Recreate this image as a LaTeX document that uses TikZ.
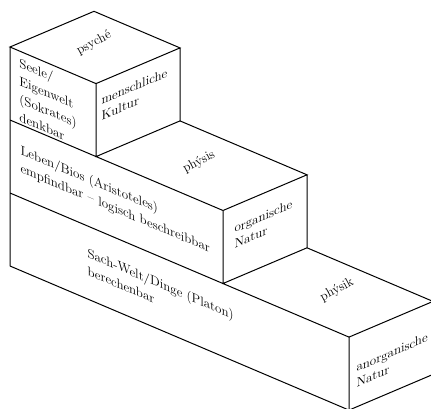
\documentclass[tikz,border=0pt]{standalone}
\usepackage{tikz}
\usetikzlibrary{calc}
\tikzset{leftlbl/.style={yslant=-0.425, anchor=base west, align=left, inner sep=0pt},
         rightlbl/.style={yslant=0.425, anchor=base west, align=left, inner sep=0pt},
         toplbl/.style={rotate=28, inner sep=0pt}}

\begin{document}
\begin{tikzpicture}[x=1pt, y=-1pt, line width=1pt, font=\fontsize{13}{18}\selectfont]
    \useasboundingbox (0, 0) rectangle (431, 408);

    % corners of the three steps
    \coordinate (a1) at (10, 47);
    \coordinate (b1) at (94, 11.3);
    \coordinate (c1) at (180, 47.9);
    \coordinate (d1) at (96, 83.6);
    \coordinate (e1) at (10, 120);
    \coordinate (f1) at (96, 156.6);
    \coordinate (g1) at (180, 120.9);

    \coordinate (e2) at (10, 193);
    \coordinate (d2) at (223, 210.5);
    \coordinate (h2) at (307, 174.8);
    \coordinate (d2b) at (223, 283.5);
    \coordinate (h2b) at (307, 247.8);

    \coordinate (e3) at (10, 266);
    \coordinate (d3) at (349, 337.1);
    \coordinate (h3) at (433, 301.4);
    \coordinate (d3b) at (349, 410.1);
    \coordinate (h3b) at (433, 374.4);

    \draw
    (a1) -- (b1) -- (c1) -- (d1) -- cycle
    (d1) -- (f1) -- (g1) -- (c1)
    (a1) -- (e3)
    (e1) -- (d2)
    (g1) -- (h2) -- (d2) -- (d2b) -- (h2b) -- (h2)
    (e2) -- (d3)
    (h2b) -- (h3) -- (d3) -- (d3b) -- (h3b) -- (h3)
    (e3) -- (d3b);

    % texts on the faces (base = baseline of the last line)
    \node[toplbl] (psy) at (94, 43) {psyché};
    \node[toplbl] (phys) at (199, 162) {phýsis};
    \node[toplbl] (physk) at (337, 290) {phýsik};

    \node[leftlbl] (seele) at (19, 121) {Seele/\\Eigenwelt\\(Sokrates)\\denkbar};
    \node[leftlbl] (bios) at (20, 172) {Leben/Bios (Aristoteles)\\empfindbar -- logisch beschreibbar};
    \node[leftlbl] (dinge) at (87, 275) {Sach-Welt/Dinge (Platon)\\berechenbar};

    \node[rightlbl] (kultur) at (101, 120.5) {menschliche\\[-2.5pt]Kultur};
    \node[rightlbl] (org) at (234, 248.5) {organische\\[-2.5pt]Natur};
    \node[rightlbl] (anorg) at (356, 387.5) {anorganische\\[-2.5pt]Natur};
\end{tikzpicture}
\end{document}
